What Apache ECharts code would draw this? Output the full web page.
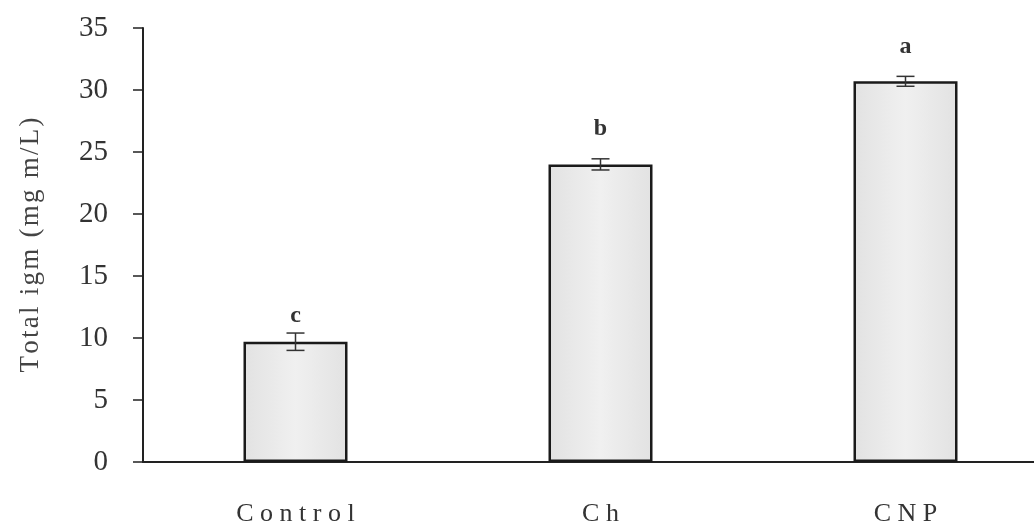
<!DOCTYPE html>
<html>
<head>
<meta charset="utf-8">
<style>
  html, body { margin: 0; padding: 0; background: #fff; overflow: hidden; }
  /* the plot runs slightly past the right edge of the window */
  #chart { width: 1060px; height: 527px; }
</style>
<script src="https://cdn.jsdelivr.net/npm/echarts@6/dist/echarts.min.js"></script>
</head>
<body>
<div id="chart"></div>
<script>
// Treatment groups and measured total IgM
const categories = ['Control', 'Ch', 'CNP'];
const means = [9.7, 24.0, 30.7];
const errors = [0.7, 0.45, 0.4];
const letters = ['c', 'b', 'a'];
const yTicks = [0, 5, 10, 15, 20, 25, 30, 35];

const chart = echarts.init(document.getElementById('chart'));
const serif = '"Liberation Serif", "DejaVu Serif", serif';
// distance in px between each error-bar cap and its significance letter
const letterGap = [9, 22, 22];
// widen text by spacing the glyphs apart
const spaced = (s, sep) => s.split('').join(sep);

chart.setOption({
  animation: false,
  grid: { left: 143, top: 28, right: 2, bottom: 64, containLabel: false },
  xAxis: {
    type: 'category',
    data: categories,
    axisLine: { lineStyle: { color: '#222', width: 2 } },
    axisTick: { show: false },
    axisLabel: {
      fontFamily: serif, fontSize: 26, color: '#333', margin: 39,
      formatter: v => spaced(v, ' ')
    }
  },
  yAxis: {
    type: 'value',
    min: 0, max: 35, interval: 5,
    name: spaced('Total igm (mg m/L)', '\u200a'),
    nameLocation: 'middle',
    nameGap: 99,
    nameTextStyle: { fontFamily: serif, fontSize: 27, color: '#444' },
    axisLine: { show: true, lineStyle: { color: '#222', width: 2 } },
    axisTick: { show: true, length: 10, lineStyle: { color: '#222', width: 1.5 } },
    axisLabel: {
      fontFamily: serif, fontSize: 29, color: '#333', margin: 35,
      formatter: v => yTicks.includes(v) ? String(v) : ''
    },
    splitLine: { show: false }
  },
  series: [
    {
      type: 'bar',
      data: means,
      barWidth: 104,
      itemStyle: {
        color: {
          type: 'linear', x: 0, y: 0, x2: 1, y2: 0,
          colorStops: [
            { offset: 0, color: '#e2e2e2' },
            { offset: 0.5, color: '#f0f0f0' },
            { offset: 1, color: '#e2e2e2' }
          ]
        },
        borderColor: '#1a1a1a',
        borderWidth: 2.5
      }
    },
    {
      type: 'custom',
      data: means.map((m, i) => [i, m - errors[i], m + errors[i]]),
      renderItem: (params, api) => {
        const i = api.value(0);
        const lo = api.coord([i, api.value(1)]);
        const hi = api.coord([i, api.value(2)]);
        const x = lo[0];
        const half = 9;
        const style = { stroke: '#333', lineWidth: 1.5 };
        return {
          type: 'group',
          children: [
            { type: 'line', shape: { x1: x, y1: lo[1], x2: x, y2: hi[1] }, style },
            { type: 'line', shape: { x1: x - half, y1: lo[1], x2: x + half, y2: lo[1] }, style },
            { type: 'line', shape: { x1: x - half, y1: hi[1], x2: x + half, y2: hi[1] }, style },
            {
              type: 'text',
              style: {
                text: letters[i], x: x, y: hi[1] - letterGap[i] + 4,
                textAlign: 'center', textVerticalAlign: 'bottom',
                font: 'bold 24px ' + serif, fill: '#333'
              }
            }
          ]
        };
      },
      z: 5
    }
  ]
});
</script>
</body>
</html>
